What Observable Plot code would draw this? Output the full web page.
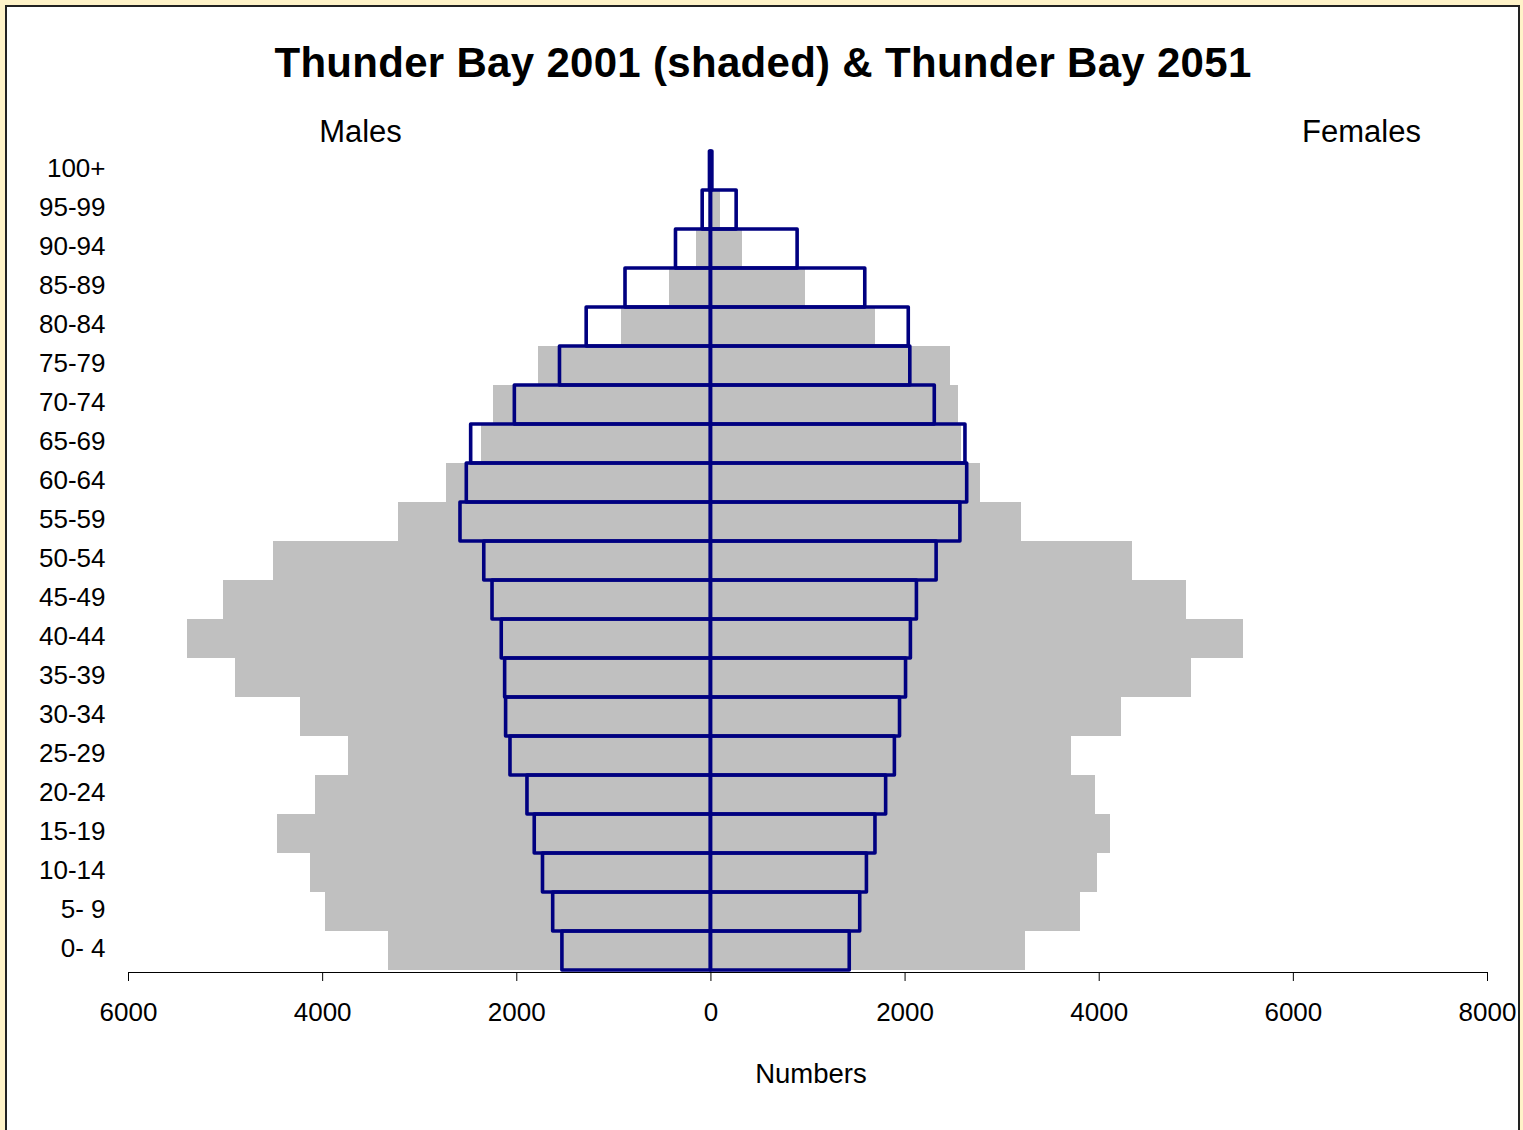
<!DOCTYPE html>
<html>
<head>
<meta charset="utf-8">
<script src="https://cdn.jsdelivr.net/npm/d3@7"></script>
<script src="https://cdn.jsdelivr.net/npm/@observablehq/plot@0.6"></script>
<style>
  html, body { margin: 0; padding: 0; background: #FFF3C8; }
  body { width: 1523px; height: 1130px; position: relative; overflow: hidden; font-family: "Liberation Sans", Arial, sans-serif; }
  #frame { position: absolute; left: 5px; top: 5px; width: 1511px; height: 1140px; background: #ffffff; border: 2px solid #222222; }
  #chart { position: absolute; left: 0; top: 0; }
</style>
</head>
<body>
<div id="frame"></div>
<div id="chart"></div>
<script>
// Age groups, bottom (youngest) to top (oldest)
const ages = ["0- 4","5- 9","10-14","15-19","20-24","25-29","30-34","35-39","40-44","45-49","50-54","55-59","60-64","65-69","70-74","75-79","80-84","85-89","90-94","95-99","100+"];

// 2001 (shaded)
const males2001   = [3325, 3975, 4130, 4470, 4070, 3730, 4225, 4895, 5390, 5025, 4510, 3215, 2720, 2360, 2245, 1780, 925, 430, 145, 25, 5];
const females2001 = [3245, 3810, 3985, 4120, 3965, 3715, 4230, 4950, 5490, 4900, 4345, 3200, 2780, 2580, 2555, 2465, 1695, 970, 330, 100, 10];

// 2051 (outlined)
const males2051   = [1530, 1625, 1730, 1815, 1890, 2065, 2110, 2120, 2155, 2250, 2335, 2580, 2515, 2470, 2020, 1555, 1280, 880, 360, 85, 10];
const females2051 = [1430, 1538, 1607, 1695, 1805, 1895, 1948, 2010, 2060, 2122, 2325, 2570, 2640, 2622, 2306, 2054, 2038, 1590, 893, 265, 15];

const xTicks = [-6000, -4000, -2000, 0, 2000, 4000, 6000, 8000];

const titleText = "Thunder Bay 2001 (shaded) & Thunder Bay 2051";
const leftLabel = "Males";
const rightLabel = "Females";
const xLabel = "Numbers";

const rows = ages.map((age, i) => ({
  age,
  m2001: males2001[i], f2001: females2001[i],
  m2051: males2051[i], f2051: females2051[i]
}));

const NAVY = "#000080";
const GRAY = "#C0C0C0";

const chart = Plot.plot({
  width: 1523,
  height: 1130,
  marginLeft: 128,
  marginRight: 36,
  marginTop: 149,
  marginBottom: 158,
  style: { background: "transparent", fontFamily: "'Liberation Sans', Arial, sans-serif", color: "#000" },
  x: { domain: [-6000, 8000], ticks: xTicks },
  y: { domain: ages.slice().reverse(), padding: 0 },
  marks: [
    // 2001 shaded
    Plot.barX(rows, { y: "age", x1: d => -d.m2001, x2: 0, fill: GRAY, shapeRendering: "crispEdges" }),
    Plot.barX(rows, { y: "age", x1: 0, x2: d => d.f2001, fill: GRAY, shapeRendering: "crispEdges" }),
    // 2051 outlined
    Plot.barX(rows, { y: "age", x1: d => -d.m2051, x2: 0, fill: "none", stroke: NAVY, strokeWidth: 3.6, strokeLinejoin: "round" }),
    Plot.barX(rows, { y: "age", x1: 0, x2: d => d.f2051, fill: "none", stroke: NAVY, strokeWidth: 3.6, strokeLinejoin: "round" }),
    // axes
    Plot.axisX({ ticks: xTicks, tickFormat: d => String(Math.abs(d)), tickSize: 9, tickPadding: 21, fontSize: 26, label: null, stroke: "#000" }),
    Plot.frame({ anchor: "bottom", stroke: "#000", strokeWidth: 1 }),
    Plot.axisY({ tickSize: 0, tickPadding: 23, fontSize: 26, dy: -2.5, label: null }),
    // annotations
    Plot.text([titleText], { frameAnchor: "top", dx: -45, dy: -86, fontSize: 42, fontWeight: "bold", lineAnchor: "middle", fill: "#000" }),
    Plot.text([leftLabel], { frameAnchor: "top-left", dx: 232, dy: -17, fontSize: 31, textAnchor: "middle", lineAnchor: "middle", fill: "#000" }),
    Plot.text([rightLabel], { frameAnchor: "top-right", dx: -126, dy: -17, fontSize: 31, textAnchor: "middle", lineAnchor: "middle", fill: "#000" }),
    Plot.text([xLabel], { frameAnchor: "bottom", dx: 3, dy: 102, fontSize: 27.5, lineAnchor: "middle", fill: "#000" })
  ]
});

// slightly wider tracking on the title, as in the original
d3.select(chart).selectAll("text")
  .filter(function () { return this.textContent === titleText; })
  .attr("letter-spacing", "0.3");

document.getElementById("chart").appendChild(chart);
</script>
</body>
</html>
